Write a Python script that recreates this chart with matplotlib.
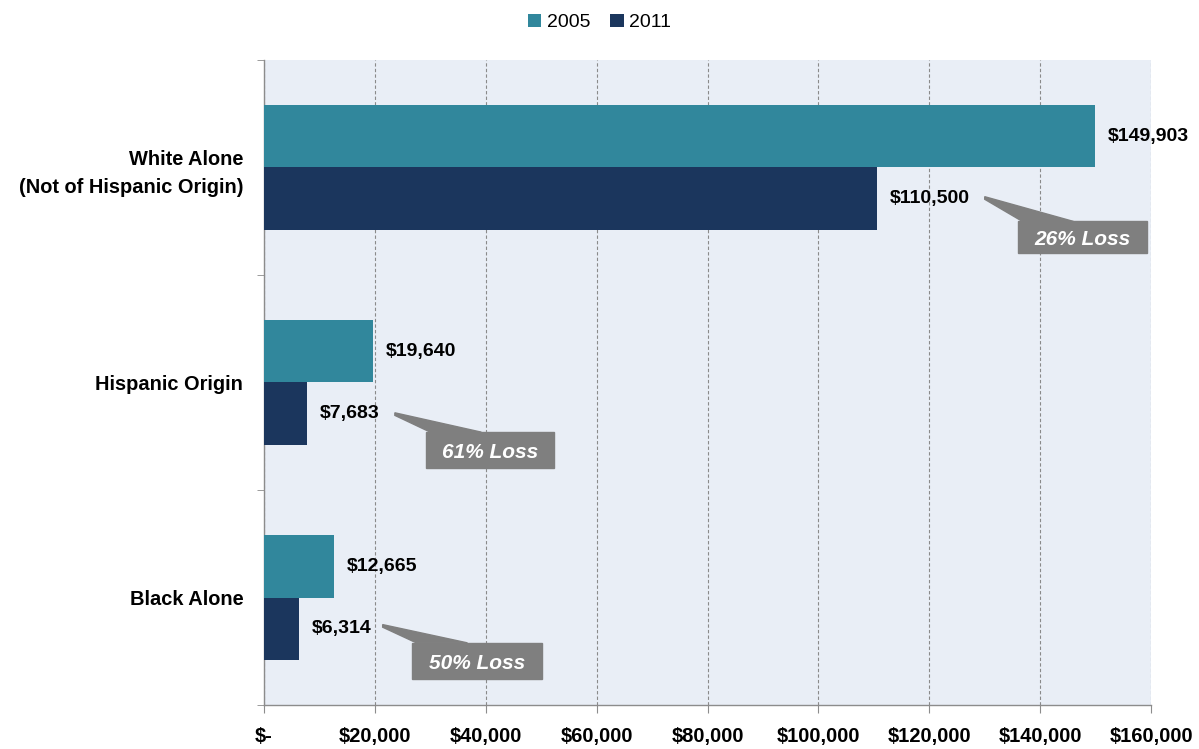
import matplotlib
matplotlib.use("Agg")
import matplotlib.pyplot as plt
from matplotlib.patches import Polygon, Rectangle
from matplotlib.ticker import FuncFormatter
import numpy as np

CATEGORIES = ["White Alone\n(Not of Hispanic Origin)", "Hispanic Origin", "Black Alone"]
WEALTH_2005 = [149903, 19640, 12665]
WEALTH_2011 = [110500, 7683, 6314]
LOSS_LABELS = ["26% Loss", "61% Loss", "50% Loss"]
X_TICKS = [0, 20000, 40000, 60000, 80000, 100000, 120000, 140000, 160000]

COLOR_2005 = "#31879C"
COLOR_2011 = "#1B365D"
PLOT_BG = "#E9EEF6"
CALLOUT_GREY = "#7F7F7F"
NARROW = ["Liberation Sans Narrow", "Liberation Sans", "DejaVu Sans"]
REGULAR = ["Liberation Sans", "DejaVu Sans"]

# callout box placement: (box left, box right, box top, box bottom, tip x, tip y)
CALLOUTS = [
    (136000, 159300, 0.25, 0.40, 130000, 0.14),
    (29200, 52300, 1.23, 1.40, 23600, 1.145),
    (26700, 50200, 2.21, 2.38, 21400, 2.13),
]


def money(v, _pos=None):
    return "$-" if v == 0 else f"${v:,.0f}"


fig = plt.figure(figsize=(11.99, 7.49), dpi=100)
ax = fig.add_axes([0.2202, 0.0587, 0.7398, 0.8613])
ax.set_facecolor(PLOT_BG)

y = np.arange(len(CATEGORIES))
h = 0.29
b05 = ax.barh(y - h / 2, WEALTH_2005, height=h, color=COLOR_2005, label="2005", zorder=3)
b11 = ax.barh(y + h / 2, WEALTH_2011, height=h, color=COLOR_2011, label="2011", zorder=3)

for bars, vals in ((b05, WEALTH_2005), (b11, WEALTH_2011)):
    for bar, v in zip(bars, vals):
        ax.annotate(money(v), (v, bar.get_y() + bar.get_height() / 2),
                    xytext=(13, 0), textcoords="offset pixels",
                    ha="left", va="center", fontsize=14, fontweight="bold",
                    family=NARROW, zorder=5)

for (x0, x1, top, bot, tx, ty), label in zip(CALLOUTS, LOSS_LABELS):
    ax.add_patch(Rectangle((x0, top), x1 - x0, bot - top, color=CALLOUT_GREY, zorder=4))
    wedge = [(tx, ty - 0.004), (tx, ty + 0.008), (x0 + 800, top + 0.001),
             (x0 + 10000, top + 0.001)]
    ax.add_patch(Polygon(wedge, closed=True, color=CALLOUT_GREY, zorder=4))
    ax.text((x0 + x1) / 2, (top + bot) / 2 + 0.01, label, ha="center", va="center",
            color="white", fontsize=15, fontweight="bold", fontstyle="italic",
            family=REGULAR, zorder=5)

ax.set_xlim(0, 160000)
ax.set_ylim(2.5, -0.5)
ax.set_xticks(X_TICKS)
ax.xaxis.set_major_formatter(FuncFormatter(money))
ax.set_yticks(y)
ax.set_yticklabels(CATEGORIES, fontsize=14.4, fontweight="bold", family=REGULAR,
                   multialignment="right", linespacing=1.6)
ax.set_yticks([-0.5, 0.5, 1.5, 2.5], minor=True)
ax.tick_params(axis="y", which="major", length=0, pad=15)
ax.tick_params(axis="y", which="minor", length=5, color="#8C8C8C", direction="out")
ax.tick_params(axis="x", length=6, color="#8C8C8C", direction="out", pad=10)
for lbl in ax.get_xticklabels():
    lbl.set_fontsize(14.5)
    lbl.set_fontweight("bold")
    lbl.set_family(NARROW)

ax.grid(axis="x", linestyle=(0, (3, 2)), color="#8A8A8A", linewidth=0.8, zorder=1)
ax.set_axisbelow(True)
for side in ("top", "right"):
    ax.spines[side].set_visible(False)
for side in ("left", "bottom"):
    ax.spines[side].set_color("#8C8C8C")
    ax.spines[side].set_linewidth(1.0)

fig.legend(handles=[b05, b11], labels=["2005", "2011"], loc="upper center",
           bbox_to_anchor=(0.5, 1.005), ncol=2, frameon=False,
           handlelength=0.7, handleheight=0.7, handletextpad=0.3, columnspacing=1.0,
           prop={"family": REGULAR, "size": 14})

fig.savefig("out.png", dpi=100)
